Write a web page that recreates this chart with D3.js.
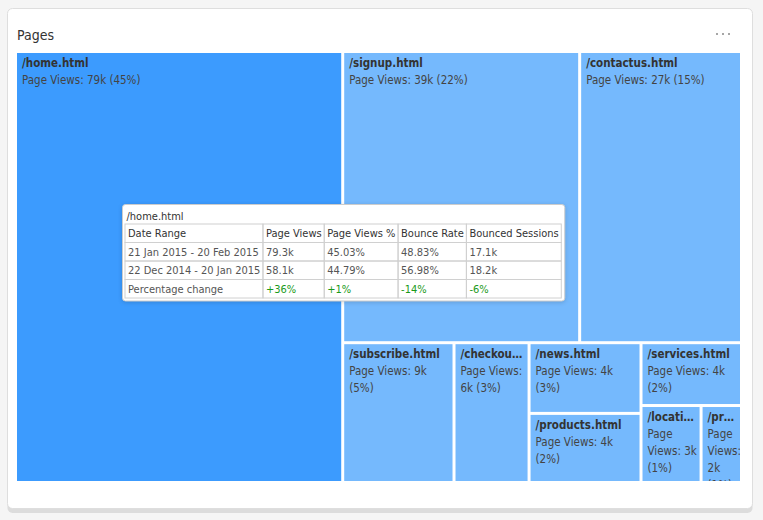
<!DOCTYPE html>
<html>
<head>
<meta charset="utf-8">
<script src="https://cdn.jsdelivr.net/npm/d3@7"></script>
<style>
  body { margin: 0; background: #f5f5f5; }
  svg { display: block; font-family: "DejaVu Sans Condensed", "DejaVu Sans", sans-serif; }
</style>
</head>
<body>
<svg id="chart" width="763" height="520"></svg>
<script>
// page names and page views
const pages = ["/home.html", "/signup.html", "/contactus.html", "/subscribe.html", "/checkout.html",
  "/news.html", "/products.html", "/services.html", "/locations.html", "/pricing.html"];
const pageViews = [79300, 38800, 26500, 8750, 5900, 4450, 4350, 3550, 2600, 1750];

// tooltip shown over /home.html
const tipTitle = "/home.html";
const tipHeaders = ["Date Range", "Page Views", "Page Views %", "Bounce Rate", "Bounced Sessions"];
const tipCurrent = ["21 Jan 2015 - 20 Feb 2015", "79.3k", "45.03%", "48.83%", "17.1k"];
const tipPrevious = ["22 Dec 2014 - 20 Jan 2015", "58.1k", "44.79%", "56.98%", "18.2k"];
const tipChange = ["Percentage change", "+36%", "+1%", "-14%", "-6%"];

const W = 763, H = 520;
const svg = d3.select("#chart");

// card
svg.append("rect").attr("x", 7.5).attr("y", 12).attr("width", 745).attr("height", 501)
  .attr("rx", 5).attr("fill", "#dcdcdc");
svg.append("rect").attr("x", 7.5).attr("y", 8.5).attr("width", 745).attr("height", 500)
  .attr("rx", 5).attr("fill", "#fff").attr("stroke", "#dedede");

svg.append("text").attr("x", 17).attr("y", 40).attr("font-size", 14).attr("fill", "#333")
  .text("Pages");
svg.append("g").selectAll("circle").data([0, 1, 2]).join("circle")
  .attr("cx", d => 717 + d * 6).attr("cy", 34).attr("r", 1).attr("fill", "#888");

// treemap
const total = d3.sum(pageViews);
const root = d3.hierarchy({ children: pages.map((p, i) => ({ name: p, value: pageViews[i] })) })
  .sum(d => d.value || 0)
  .sort((a, b) => b.value - a.value);

d3.treemap()
  .tile(d3.treemapSquarify.ratio(1))
  .size([723, 428])
  .paddingInner(3)(root);

const color = d => d.data.name === "/home.html" ? "#3c9bfe" : "#75b9fd";
const fmtK = v => Math.round(v / 1000) + "k";
const fmtPct = v => Math.round(v / total * 100) + "%";

const tm = svg.append("g").attr("transform", "translate(17,53)");
const cells = tm.selectAll("g").data(root.leaves()).join("g")
  .attr("transform", d => `translate(${d.x0},${d.y0})`);

cells.append("clipPath").attr("id", (d, i) => "clip" + i)
  .append("rect").attr("width", d => d.x1 - d.x0).attr("height", d => d.y1 - d.y0);

cells.append("rect")
  .attr("width", d => d.x1 - d.x0)
  .attr("height", d => d.y1 - d.y0)
  .attr("fill", color);

const lineH = 17;
cells.each(function (d, i) {
  const g = d3.select(this).append("g").attr("clip-path", `url(#clip${i})`);
  const maxW = d.x1 - d.x0 - 5;
  const name = g.append("text").attr("x", 5).attr("y", 14)
    .attr("font-size", 11.5).attr("font-weight", "bold").attr("fill", "#333");
  // ellipsis for long names
  let s = d.data.name;
  name.text(s);
  while (name.node().getComputedTextLength() > maxW - 4 && s.length > 1) {
    s = s.slice(0, -1);
    name.text(s + "…");
  }
  // wrapped value text
  const words = `Page Views: ${fmtK(d.value)} (${fmtPct(d.value)})`.split(" ");
  const t = g.append("text").attr("font-size", 11.5).attr("fill", "#444");
  let line = [], y = 14 + lineH;
  let ts = t.append("tspan").attr("x", 5).attr("y", y);
  words.forEach(w => {
    line.push(w);
    ts.text(line.join(" "));
    if (ts.node().getComputedTextLength() > maxW && line.length > 1) {
      line.pop();
      ts.text(line.join(" "));
      line = [w];
      y += lineH;
      ts = t.append("tspan").attr("x", 5).attr("y", y).text(w);
    }
  });
});

// tooltip
const tip = svg.append("g").attr("transform", "translate(122.5,204.5)");
const tipBox = tip.append("rect").attr("rx", 3).attr("fill", "#fff").attr("stroke", "#ccc")
  .style("filter", "drop-shadow(0 1px 2px rgba(0,0,0,0.15))");
tip.append("text").attr("x", 4).attr("y", 15).attr("font-size", 11).attr("fill", "#333").text(tipTitle);

const rows = [tipHeaders, tipCurrent, tipPrevious, tipChange];
const pad = 3, rowH = 18.5, tx = 2.5, ty = 19.5;
// measure column widths
const meas = tip.append("text").attr("font-size", 11);
const colW = tipHeaders.map((_, c) => d3.max(rows, r => {
  meas.text(r[c]);
  return meas.node().getComputedTextLength();
}) + pad + 2.6);
meas.remove();
const colX = d3.cumsum([0, ...colW]);
const tableW = colX[colX.length - 1];

const table = tip.append("g").attr("transform", `translate(${tx},${ty})`);
rows.forEach((r, ri) => {
  r.forEach((v, c) => {
    table.append("rect").attr("x", colX[c]).attr("y", ri * rowH)
      .attr("width", colW[c]).attr("height", rowH)
      .attr("fill", "none").attr("stroke", "#d0d0d0");
    table.append("text").attr("x", colX[c] + pad).attr("y", ri * rowH + 13)
      .attr("font-size", 11)
      .attr("fill", ri === 3 && c > 0 ? "#1a9a1a" : (ri === 0 ? "#333" : "#555"))
      .text(v);
  });
});
tipBox.attr("width", tableW + tx * 2 + 1).attr("height", ty + rows.length * rowH + 3);
</script>
</body>
</html>
